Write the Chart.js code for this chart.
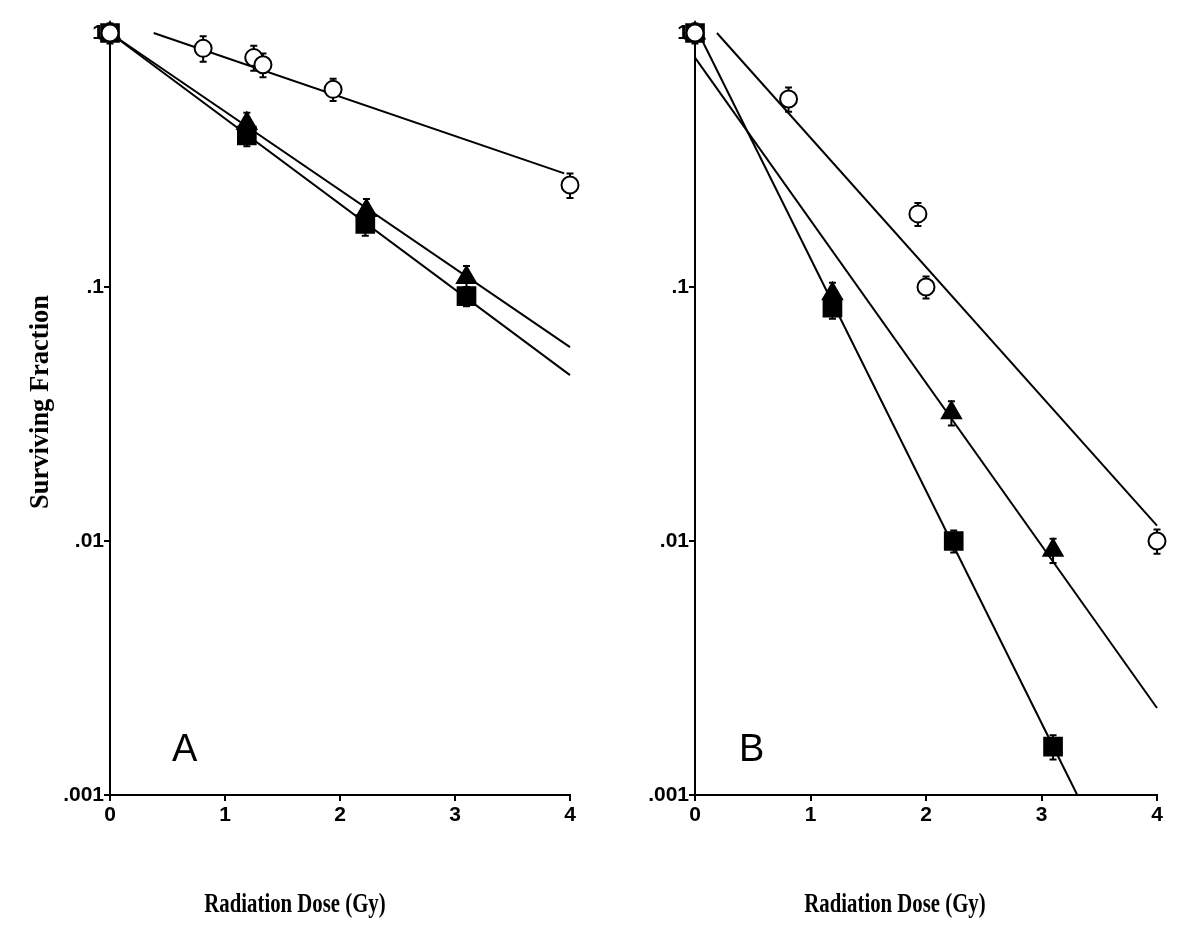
<!DOCTYPE html>
<html>
<head>
<meta charset="utf-8">
<script src="https://cdn.jsdelivr.net/npm/chart.js@4.4.1/dist/chart.umd.min.js"></script>
<style>
  html, body { margin: 0; padding: 0; background: #fff; }
  #wrap { position: relative; width: 1200px; height: 937px; }
  .panel { position: absolute; top: 0; width: 600px; height: 937px; }
  #panelA { left: 0; }
  #panelB { left: 600px; }
</style>
</head>
<body>
<div id="wrap">
  <div class="panel" id="panelA"><canvas id="chartA" width="600" height="937"></canvas></div>
  <div class="panel" id="panelB"><canvas id="chartB" width="600" height="937"></canvas></div>
</div>
<script>
// axis ticks
const yTickValues = [0.001, 0.01, 0.1, 1];
const yTickLabels = ['.001', '.01', '.1', '1'];
const xTitle = 'Radiation Dose (Gy)';
const yTitle = 'Surviving Fraction';

// Panel A - measured points (dose, surviving fraction, error)
const doseA_circle = [0, 0.81, 1.25, 1.33, 1.94, 4.0];
const sfA_circle = [1.0, 0.87, 0.80, 0.75, 0.60, 0.252];
const errA_circle = [0.09, 0.10, 0.09, 0.08, 0.06, 0.028];
const doseA_tri = [0, 1.19, 2.23, 3.1];
const sfA_tri = [1.0, 0.44, 0.20, 0.109];
const errA_tri = [0.05, 0.045, 0.022, 0.012];
const doseA_sq = [0, 1.19, 2.22, 3.1];
const sfA_sq = [1.0, 0.395, 0.177, 0.092];
const errA_sq = [0.05, 0.037, 0.018, 0.008];
// Panel A - fitted lines (end points)
const fitA_circle_x = [0.38, 3.95];
const fitA_circle_y = [1.0, 0.28];
const fitA_tri_x = [0, 4];
const fitA_tri_y = [1.0, 0.058];
const fitA_sq_x = [0, 4];
const fitA_sq_y = [1.0, 0.045];

// Panel B - measured points
const doseB_circle = [0, 0.81, 1.93, 2.0, 4.0];
const sfB_circle = [1.0, 0.55, 0.194, 0.10, 0.010];
const errB_circle = [0.09, 0.06, 0.02, 0.01, 0.0011];
const doseB_tri = [0, 1.19, 2.22, 3.1];
const sfB_tri = [1.0, 0.094, 0.032, 0.0092];
const errB_tri = [0.05, 0.01, 0.0035, 0.001];
const doseB_sq = [0, 1.19, 2.24, 3.1];
const sfB_sq = [1.0, 0.083, 0.010, 0.00155];
const errB_sq = [0.05, 0.008, 0.001, 0.00017];
// Panel B - fitted lines
const fitB_circle_x = [0.19, 4];
const fitB_circle_y = [1.0, 0.0115];
const fitB_tri_x = [0, 4];
const fitB_tri_y = [0.80, 0.0022];
const fitB_sq_x = [0.03, 3.31];
const fitB_sq_y = [1.0, 0.001];

function toPoints(xs, ys) {
    return xs.map((x, i) => ({ x: x, y: ys[i] }));
}

// error bars drawn under the markers
const errorBars = {
    id: 'errorBars',
    beforeDatasetsDraw(chart) {
        const ctx = chart.ctx;
        const yScale = chart.scales.y;
        chart.data.datasets.forEach((ds, i) => {
            if (!ds.errors) return;
            const meta = chart.getDatasetMeta(i);
            ctx.save();
            ctx.strokeStyle = '#000';
            ctx.lineWidth = 2;
            meta.data.forEach((pt, j) => {
                const v = ds.data[j].y, e = ds.errors[j];
                const top = yScale.getPixelForValue(v + e);
                const bot = yScale.getPixelForValue(v - e);
                ctx.beginPath();
                ctx.moveTo(pt.x, top); ctx.lineTo(pt.x, bot);
                ctx.moveTo(pt.x - 3.5, top); ctx.lineTo(pt.x + 3.5, top);
                ctx.moveTo(pt.x - 3.5, bot); ctx.lineTo(pt.x + 3.5, bot);
                ctx.stroke();
            });
            ctx.restore();
        });
    }
};

// panel letter and axis titles
const panelText = {
    id: 'panelText',
    afterDraw(chart, args, opts) {
        const ctx = chart.ctx;
        const xs = chart.scales.x, ys = chart.scales.y;
        ctx.save();
        ctx.fillStyle = '#000';
        ctx.textAlign = 'center';
        ctx.textBaseline = 'middle';
        ctx.font = '38px "Liberation Sans", Arial, sans-serif';
        ctx.fillText(opts.letter, xs.getPixelForValue(opts.letterAt[0]), ys.getPixelForValue(opts.letterAt[1]));

        ctx.font = 'bold 27px "Liberation Serif", "Times New Roman", serif';
        ctx.save();
        ctx.translate(opts.xTitleX, 905);
        ctx.scale(0.77, 1);
        ctx.fillText(xTitle, 0, 0);
        ctx.restore();

        if (opts.showYTitle) {
            ctx.save();
            ctx.translate(41, 402);
            ctx.rotate(-Math.PI / 2);
            ctx.scale(0.98, 1);
            ctx.fillText(yTitle, 0, 0);
            ctx.restore();
        }
        ctx.restore();
    }
};

function makeChart(canvasId, cfg) {
    const pointSet = (label, xs, ys, errs, style, order) => ({
        label: label,
        type: 'scatter',
        data: toPoints(xs, ys),
        errors: errs,
        pointStyle: style,
        pointRadius: style === 'circle' ? 8.5 : (style === 'rect' ? 12.5 : 11),
        pointBorderWidth: 2,
        pointBorderColor: '#000',
        pointBackgroundColor: style === 'circle' ? '#fff' : '#000',
        showLine: false,
        clip: false,
        order: order
    });
    const fitLine = (label, xs, ys) => ({
        label: label,
        type: 'line',
        data: toPoints(xs, ys),
        borderColor: '#000',
        borderWidth: 2,
        pointRadius: 0,
        fill: false,
        tension: 0,
        clip: false,
        order: 3
    });

    return new Chart(document.getElementById(canvasId).getContext('2d'), {
        type: 'scatter',
        data: {
            datasets: [
                fitLine('fit circle', cfg.fits[0][0], cfg.fits[0][1]),
                fitLine('fit triangle', cfg.fits[1][0], cfg.fits[1][1]),
                fitLine('fit square', cfg.fits[2][0], cfg.fits[2][1]),
                pointSet('square', cfg.sq[0], cfg.sq[1], cfg.sq[2], 'rect', 2),
                pointSet('triangle', cfg.tri[0], cfg.tri[1], cfg.tri[2], 'triangle', 1),
                pointSet('circle', cfg.circle[0], cfg.circle[1], cfg.circle[2], 'circle', 0)
            ]
        },
        options: {
            responsive: false,
            animation: false,
            devicePixelRatio: 1,
            layout: {
                padding: { left: 0, right: cfg.padRight, top: 33, bottom: 0 }
            },
            plugins: {
                legend: { display: false },
                tooltip: { enabled: false },
                panelText: {
                    letter: cfg.letter,
                    letterAt: cfg.letterAt,
                    xTitleX: 295,
                    showYTitle: cfg.showYTitle
                }
            },
            scales: {
                x: {
                    type: 'linear',
                    min: 0,
                    max: 4,
                    afterFit: s => { s.height = 142; },
                    ticks: {
                        stepSize: 1,
                        color: '#000',
                        padding: 2,
                        font: { family: '"Liberation Sans", Arial, sans-serif', size: 21, weight: 'bold' }
                    },
                    grid: { drawOnChartArea: false, tickLength: 6, color: '#000', lineWidth: 2 },
                    border: { display: true, color: '#000', width: 2 }
                },
                y: {
                    type: 'logarithmic',
                    min: 0.001,
                    max: 1,
                    afterFit: s => { s.width = cfg.yAxisWidth; },
                    afterBuildTicks: s => { s.ticks = yTickValues.map(v => ({ value: v })); },
                    ticks: {
                        autoSkip: false,
                        color: '#000',
                        padding: 0,
                        font: { family: '"Liberation Sans", Arial, sans-serif', size: 21, weight: 'bold' },
                        callback: v => yTickLabels[yTickValues.indexOf(v)]
                    },
                    grid: { drawOnChartArea: false, tickLength: 6, color: '#000', lineWidth: 2 },
                    border: { display: true, color: '#000', width: 2 }
                }
            }
        },
        plugins: [errorBars, panelText]
    });
}

makeChart('chartA', {
    circle: [doseA_circle, sfA_circle, errA_circle],
    tri: [doseA_tri, sfA_tri, errA_tri],
    sq: [doseA_sq, sfA_sq, errA_sq],
    fits: [[fitA_circle_x, fitA_circle_y], [fitA_tri_x, fitA_tri_y], [fitA_sq_x, fitA_sq_y]],
    letter: 'A',
    letterAt: [0.65, 0.0015],
    padRight: 30,
    yAxisWidth: 110,
    showYTitle: true
});

makeChart('chartB', {
    circle: [doseB_circle, sfB_circle, errB_circle],
    tri: [doseB_tri, sfB_tri, errB_tri],
    sq: [doseB_sq, sfB_sq, errB_sq],
    fits: [[fitB_circle_x, fitB_circle_y], [fitB_tri_x, fitB_tri_y], [fitB_sq_x, fitB_sq_y]],
    letter: 'B',
    letterAt: [0.49, 0.0015],
    padRight: 43,
    yAxisWidth: 95,
    showYTitle: false
});
</script>
</body>
</html>
